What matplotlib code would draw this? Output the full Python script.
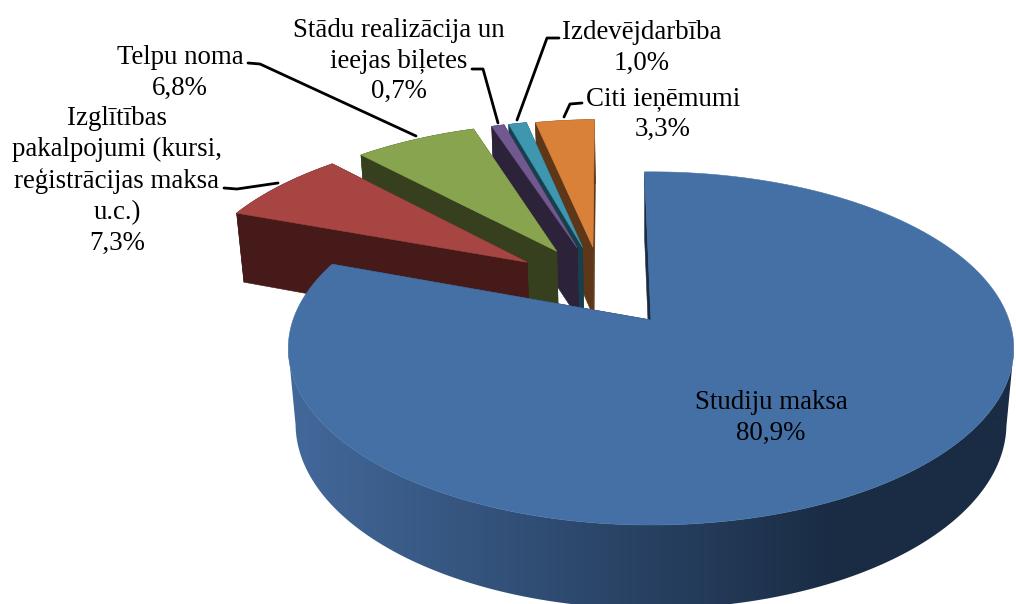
import numpy as np
import matplotlib
matplotlib.use("Agg")
import matplotlib.pyplot as plt
from matplotlib.colors import to_rgb
from matplotlib.patches import Polygon

plt.rcParams["font.family"] = ["Liberation Serif", "DejaVu Serif"]

#Chart data
slice_names = ["Studiju maksa", "Izglītības\npakalpojumi (kursi,\nreģistrācijas maksa\nu.c.)", "Telpu noma",
               "Stādu realizācija un\nieejas biļetes", "Izdevējdarbība", "Citi ieņēmumi"]
slice_values = [80.9, 7.3, 6.8, 0.7, 1.0, 3.3]
value_labels = ["80,9%", "7,3%", "6,8%", "0,7%", "1,0%", "3,3%"]
top_colors = ["#4470A5", "#A64542", "#88A44E", "#71588F", "#3F96AF", "#D98039"]
side_colors = ["#1A2C44", "#451A18", "#37401E", "#2C2239", "#16404E", "#5E3718"]
label_pos = [(771, 418), (117, 181), (180, 73), (399, 61), (642, 48), (663, 114)]
#leader lines, from label to slice
leaders = [None,
           [(224, 188), (237, 189), (278, 183)],
           [(248, 63), (260, 64), (416, 136)],
           [(472, 69), (483, 69), (498, 123)],
           [(559, 38), (547, 38), (517, 120)],
           [(582, 103), (570, 104), (564, 117)]]

#Perspective settings of the 3D pie, in pixels
x0, y0 = 651, 320
scale_x, scale_y = 358, 172
persp = 0.161
depth, depth_persp = 76, 0.02
start_angle = -1.2
explode = 0.235
radius = [1, 0.98, 0.98, 0.98, 0.98, 0.98]
nudge_x = [0, -0.032, -0.022, -0.012, -0.008, -0.008]
nudge_y = [0, 0.035, 0.035, 0.035, 0.035, 0.03]


def project(px, py, z=0.0):
    w = 1 + persp * py + depth_persp * z
    return x0 + scale_x * px / w, y0 - (scale_y * py - depth * z) / w


def direction(angle):
    a = np.radians(angle)
    return np.sin(a), np.cos(a)


def quad(ax, pts, color, zorder):
    xs, ys = zip(*pts)
    ax.fill(xs, ys, facecolor=color, edgecolor=color, linewidth=0.4, zorder=zorder)


fig = plt.figure(figsize=(10.16, 6.04), dpi=100)
ax = fig.add_axes([0, 0, 1, 1])

edges = start_angle + np.concatenate([[0], np.cumsum(slice_values)]) * 3.6
mid0 = direction((edges[0] + edges[1]) / 2)

#Paint from the back slice to the front, blue comes last
z = 1.0
for i in [5, 4, 3, 2, 1, 0]:
    a1, a2 = edges[i], edges[i + 1]
    mid = direction((a1 + a2) / 2)
    ox = explode * (mid[0] - mid0[0]) + nudge_x[i]
    oy = explode * (mid[1] - mid0[1]) + nudge_y[i]
    angles = np.linspace(a1, a2, max(int((a2 - a1) * 1.5), 6))
    rim = [(ox + radius[i] * np.sin(np.radians(t)), oy + radius[i] * np.cos(np.radians(t))) for t in angles]

    #radial faces
    for p in [rim[-1], rim[0]]:
        quad(ax, [project(ox, oy), project(*p), project(*p, 1), project(ox, oy, 1)], side_colors[i], z)

    #outer wall
    if i == 0:
        #only the front part shows, with horizontal shading
        front = [p for p in rim if p[1] <= -persp]
        wall = [project(*p) for p in front] + [project(*p, 1) for p in front[::-1]]
        f = np.clip((np.arange(1016) - 295) / (835 - 295), 0, 1)[None, :, None]
        grad = (1 - f) * np.array(to_rgb("#42689A")) + f * np.array(to_rgb("#1A2C44"))
        im = ax.imshow(grad, extent=(0, 1016, 604, 0), aspect="auto", zorder=z + 0.1, interpolation="bilinear")
        clip = Polygon(wall, closed=True, transform=ax.transData, facecolor="none", edgecolor="none")
        ax.add_patch(clip)
        im.set_clip_path(clip)
    else:
        wall = [project(*p) for p in rim] + [project(*p, 1) for p in rim[::-1]]
        quad(ax, wall, side_colors[i], z + 0.1)

    top = [project(ox, oy)] + [project(*p) for p in rim]
    quad(ax, top, top_colors[i], z + 0.2)
    z += 1

ax.set_xlim(0, 1016)
ax.set_ylim(604, 0)
ax.axis("off")

for name, val, pos, lead in zip(slice_names, value_labels, label_pos, leaders):
    ax.text(pos[0], pos[1], name + "\n" + val, ha="center", va="center", fontsize=19.4,
            color="black", linespacing=1.3, zorder=20)
    if lead:
        lx, ly = zip(*lead)
        ax.plot(lx, ly, color="black", linewidth=2, solid_capstyle="round", zorder=19)

fig.savefig("out.png", dpi=100)
